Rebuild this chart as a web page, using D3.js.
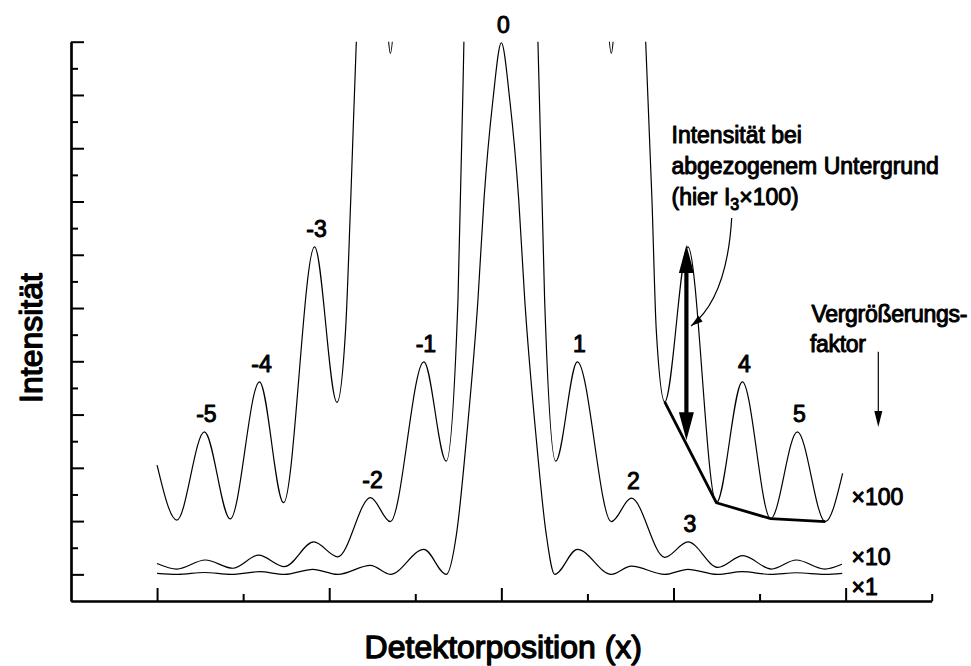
<!DOCTYPE html>
<html>
<head>
<meta charset="utf-8">
<script src="https://cdn.jsdelivr.net/npm/d3@7"></script>
<style>
  body { margin: 0; background: #fff; }
  text { font-family: "Liberation Sans", Arial, sans-serif; fill: #000; stroke: #000; stroke-width: 1px; stroke-linejoin: round; }
  text.big { stroke-width: 1.3px; }
</style>
</head>
<body>
<script>
// curves: [detector position, intensity in tick units]
const curveX1 = [
  [-4.00, 0.04], [-3.76, 0.0], [-3.45, 0.07], [-3.14, 0.0], [-2.81, 0.10], [-2.52, 0.0],
  [-2.19, 0.19], [-1.90, 0.0], [-1.52, 0.34], [-1.29, 0.0], [-0.90, 0.94], [-0.64, 0.0],
  [-0.52, 1.54], [-0.40, 5.29], [-0.272, 10.30], [-0.202, 14.06], [-0.098, 17.81], [0, 19.96],
  [0.098, 17.81], [0.202, 14.06], [0.272, 10.30], [0.40, 5.29], [0.52, 1.54], [0.62, 0.0],
  [0.883, 0.94], [1.278, 0.0], [1.51, 0.31], [1.898, 0.0], [2.168, 0.19], [2.51, 0.0],
  [2.80, 0.10], [3.13, 0.0], [3.43, 0.06], [3.76, 0.0], [3.96, 0.04]
];
const curveX10 = [
  [-4.00, 0.41], [-3.77, 0.20], [-3.44, 0.54], [-3.12, 0.23], [-2.82, 0.72], [-2.52, 0.29],
  [-2.18, 1.22], [-1.90, 0.66], [-1.52, 2.88], [-1.29, 1.98], [-0.90, 7.98], [-0.64, 4.25],
  [-0.504, 10.30], [-0.435, 20.0], [-0.35, 35], [0, 60], [0.35, 35], [0.425, 20.0],
  [0.503, 10.30], [0.631, 4.25], [0.883, 7.98], [1.278, 1.98], [1.51, 2.86], [1.898, 0.64],
  [2.168, 1.22], [2.517, 0.26], [2.807, 0.70], [3.137, 0.20], [3.427, 0.54], [3.756, 0.20],
  [3.957, 0.38]
];
const curveX100 = [
  [-4.00, 4.10], [-3.77, 2.04], [-3.45, 5.35], [-3.15, 2.08], [-2.81, 7.23], [-2.53, 2.69],
  [-2.17, 12.30], [-1.91, 6.46], [-1.81, 9.17], [-1.75, 14.06], [-1.685, 20.0], [-1.52, 27.0],
  [-1.335, 21.0], [-1.29, 19.56], [-1.245, 21.0], [-1.1, 40], [0, 60], [1.1, 40],
  [1.235, 21.0], [1.278, 19.56], [1.325, 21.0], [1.51, 27.0], [1.677, 20.0], [1.75, 14.06],
  [1.80, 9.17], [1.898, 6.48], [2.168, 12.30], [2.498, 2.69], [2.80, 7.23], [3.129, 2.09],
  [3.439, 5.35], [3.764, 1.98], [3.965, 3.79]
];
// background under the x100 curve (thick line)
const background = [[1.898, 6.48], [2.498, 2.69], [3.129, 2.09], [3.764, 1.98]];

// order labels and the peak each one sits on
const orders = ["-5", "-4", "-3", "-2", "-1", "0", "1", "2", "3", "4", "5"];
const orderPeakX = [-3.45, -2.81, -2.17, -1.52, -0.90, 0, 0.883, 1.51, 2.168, 2.80, 3.439];
const orderPeakY = [5.35, 7.23, 12.30, 2.88, 7.98, 19.96, 7.98, 2.86, 1.22, 7.23, 5.35];

const factorLabels = ["×100", "×10", "×1"];

// I3 x100 measured with background subtracted
const i3Arrow = { x: 2.15, top: 12.37, bottom: 5.04 };

const xTicksMajor = [-4, -2, 0, 2, 4];
const xTicksMinor = [-3, -1, 1, 3, 5];
const yTicksMajor = d3.range(0, 21, 2);
const yTicksMinor = d3.range(1, 20, 2);

const width = 971, height = 666;

const x = d3.scaleLinear().domain([-5, 5]).range([71, 931.7]);
const y = d3.scaleLinear().domain([-1, 20]).range([601, 41.7]);

const svg = d3.select("body").append("svg")
  .attr("width", width)
  .attr("height", height);

svg.append("defs").append("clipPath").attr("id", "plot")
  .append("rect")
    .attr("x", 71).attr("y", 41.7)
    .attr("width", 870).attr("height", 600);

// axes
function styleAxis(g) {
  g.selectAll(".domain").attr("stroke", "#000").attr("stroke-width", 2.2);
  g.selectAll(".tick line").attr("stroke", "#000").attr("stroke-width", 2);
}
svg.append("g").attr("transform", "translate(0,601)")
  .call(d3.axisBottom(x).tickValues(xTicksMajor).tickSizeInner(-13).tickSizeOuter(0).tickFormat(""))
  .call(styleAxis);
svg.append("g").attr("transform", "translate(0,601)")
  .call(d3.axisBottom(x).tickValues(xTicksMinor).tickSizeInner(-7).tickSizeOuter(0).tickFormat(""))
  .call(styleAxis);
svg.append("g").attr("transform", "translate(71,0)")
  .call(d3.axisLeft(y).tickValues(yTicksMajor).tickSizeInner(-13).tickSizeOuter(0).tickFormat(""))
  .call(styleAxis);
svg.append("g").attr("transform", "translate(71,0)")
  .call(d3.axisLeft(y).tickValues(yTicksMinor).tickSizeInner(-7).tickSizeOuter(0).tickFormat(""))
  .call(styleAxis);

// curves
const line = d3.line()
  .x(d => x(d[0]))
  .y(d => y(d[1]))
  .curve(d3.curveMonotoneX);

svg.append("g")
    .attr("clip-path", "url(#plot)")
  .selectAll("path")
  .data([curveX1, curveX10, curveX100])
  .join("path")
    .attr("d", line)
    .attr("fill", "none")
    .attr("stroke", "#000")
    .attr("stroke-width", 1.2);

svg.append("path")
  .attr("d", d3.line().x(d => x(d[0])).y(d => y(d[1]))(background))
  .attr("fill", "none")
  .attr("stroke", "#000")
  .attr("stroke-width", 2.8)
  .attr("stroke-linejoin", "round");

// double arrow
const ax = x(i3Arrow.x), aTop = y(i3Arrow.top), aBot = y(i3Arrow.bottom);
const headL = 28, headW = 7.5;
svg.append("line")
  .attr("x1", ax).attr("x2", ax)
  .attr("y1", aTop + headL - 2).attr("y2", aBot - headL + 2)
  .attr("stroke", "#000").attr("stroke-width", 4.2);
svg.append("path")
  .attr("d", `M${ax},${aTop} L${ax - headW},${aTop + headL} L${ax + headW},${aTop + headL} Z`
    + ` M${ax},${aBot} L${ax - headW},${aBot - headL} L${ax + headW},${aBot - headL} Z`)
  .attr("fill", "#000");

// curved pointer from the note to the double arrow
const p0 = [731.7, 218], pc = [727, 298], p1 = [691, 326];
svg.append("path")
  .attr("d", `M${p0[0]},${p0[1]} Q${pc[0]},${pc[1]} ${p1[0]},${p1[1]}`)
  .attr("fill", "none").attr("stroke", "#000").attr("stroke-width", 1.2);
const ang = Math.atan2(p1[1] - pc[1], p1[0] - pc[0]);
const hl = 12, hw = 3.5;
const bx = p1[0] - hl * Math.cos(ang), by = p1[1] - hl * Math.sin(ang);
svg.append("path")
  .attr("d", `M${p1[0]},${p1[1]} L${bx - hw * Math.sin(ang)},${by + hw * Math.cos(ang)} L${bx + hw * Math.sin(ang)},${by - hw * Math.cos(ang)} Z`)
  .attr("fill", "#000");

// magnification arrow
svg.append("line")
  .attr("x1", 878.3).attr("x2", 878.3).attr("y1", 351.7).attr("y2", 412)
  .attr("stroke", "#000").attr("stroke-width", 1.2);
svg.append("path")
  .attr("d", "M878.3,427 L874.3,411 L882.3,411 Z")
  .attr("fill", "#000");

// order labels
svg.append("g")
    .attr("font-size", 23)
    .attr("text-anchor", "middle")
  .selectAll("text")
  .data(orders)
  .join("text")
    .attr("x", (d, i) => x(orderPeakX[i]) + 2)
    .attr("y", (d, i) => y(orderPeakY[i]) - 9.5)
    .text(d => d);

// magnification factors
svg.append("g")
    .attr("font-size", 23)
  .selectAll("text")
  .data(factorLabels)
  .join("text")
    .attr("x", 851.5)
    .attr("y", (d, i) => [505, 565, 594.5][i])
    .text(d => d);

// note text
const note = svg.append("text").attr("font-size", 23).attr("x", 671.5);
note.append("tspan").attr("x", 671.5).attr("y", 143.3).text("Intensität bei");
note.append("tspan").attr("x", 671.5).attr("y", 174).text("abgezogenem Untergrund");
note.append("tspan").attr("x", 671.5).attr("y", 205).text("(hier I");
note.append("tspan").attr("font-size", 16).attr("dy", 5).text("3");
note.append("tspan").attr("dy", -5).text("×100)");

const vg = svg.append("text").attr("font-size", 23).attr("letter-spacing", -0.3);
vg.append("tspan").attr("x", 811.5).attr("y", 321.7).text("Vergrößerungs-");
vg.append("tspan").attr("x", 810).attr("y", 352).text("faktor");

// axis titles
svg.append("text")
  .attr("class", "big")
  .attr("font-size", 32)
  .attr("text-anchor", "middle")
  .attr("x", 503.3).attr("y", 658)
  .text("Detektorposition (x)");
svg.append("text")
  .attr("class", "big")
  .attr("font-size", 32)
  .attr("text-anchor", "middle")
  .attr("transform", "translate(41.5,338) rotate(-90)")
  .text("Intensität");
</script>
</body>
</html>
